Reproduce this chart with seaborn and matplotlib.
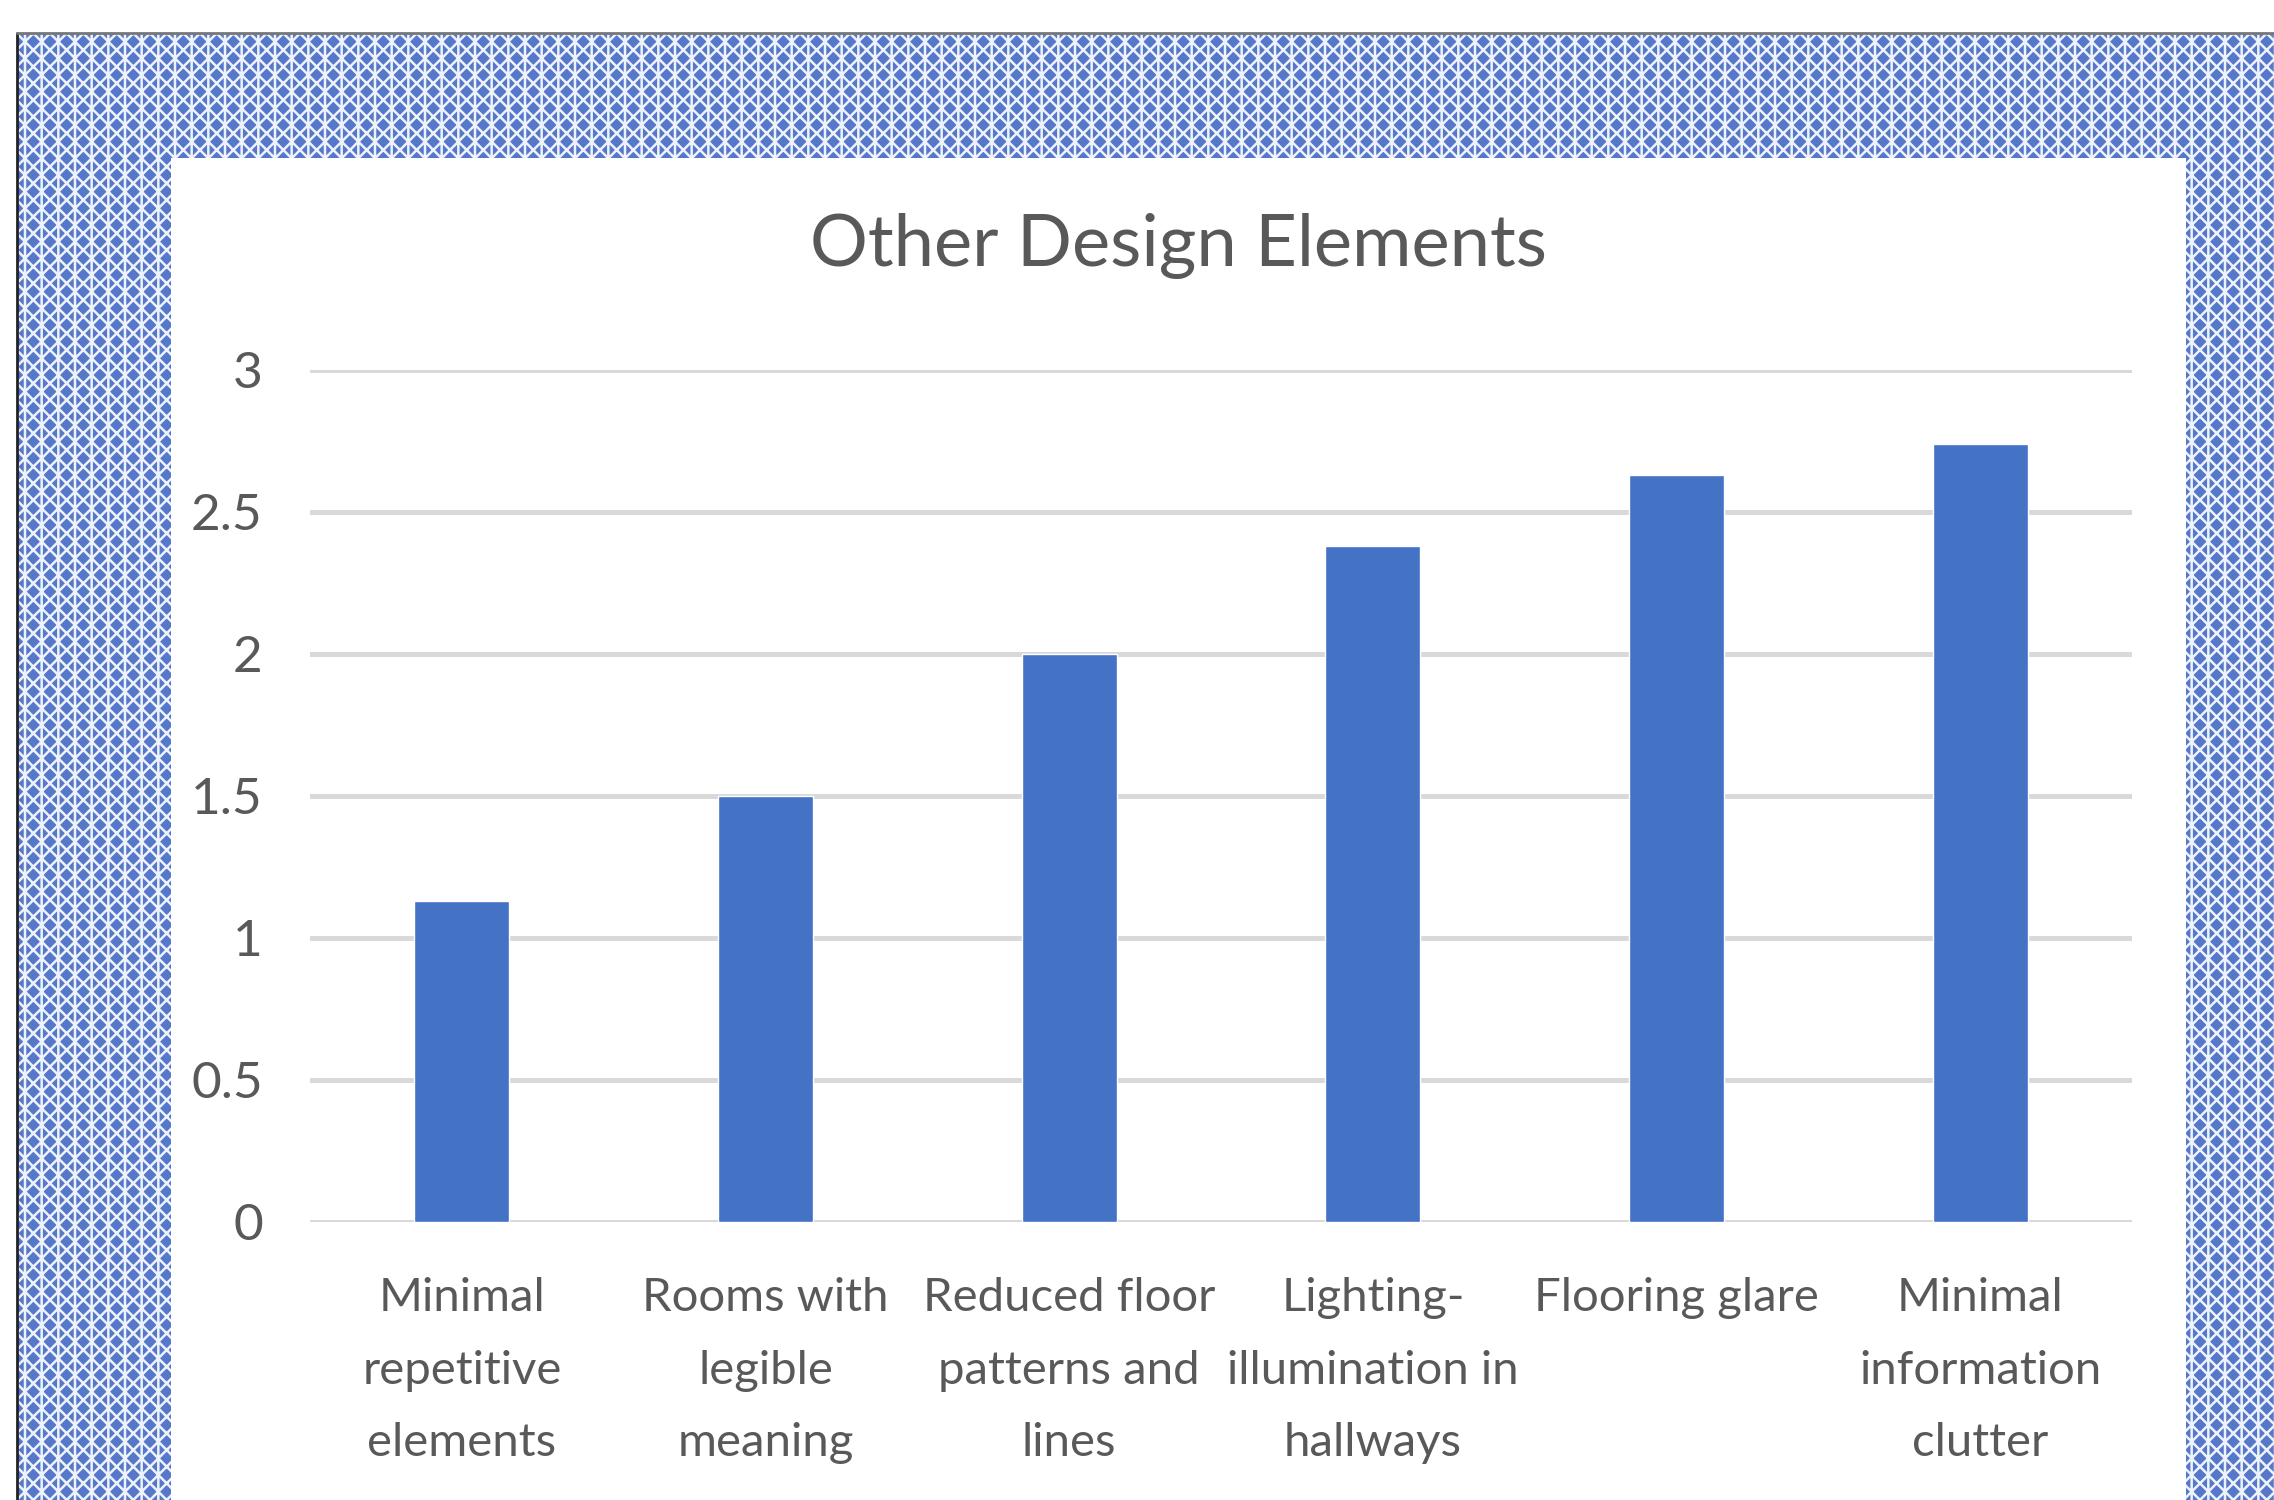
import pandas as pd
import matplotlib.pyplot as plt
import seaborn as sns
from matplotlib.patches import Rectangle
from matplotlib.lines import Line2D

# Values
labels = [
    "Minimal\nrepetitive\nelements",
    "Rooms with\nlegible\nmeaning",
    "Reduced floor\npatterns and\nlines",
    "Lighting-\nillumination in\nhallways",
    "Flooring glare",
    "Minimal\ninformation\nclutter",
]
scores = [1.13, 1.50, 2.00, 2.38, 2.63, 2.74]
y_ticks = [0, 0.5, 1, 1.5, 2, 2.5, 3]
y_tick_labels = ["0", "0.5", "1", "1.5", "2", "2.5", "3"]
title = "Other Design Elements"

df = pd.DataFrame({"element": labels, "score": scores})

sns.set_style("white")
plt.rcParams["font.family"] = ["Lato", "DejaVu Sans"]
plt.rcParams["hatch.linewidth"] = 1.8

text_color = "#595959"
bar_color = "#4472C4"

W, H = 2274, 1500
fig = plt.figure(figsize=(W / 100, H / 100), dpi=100)
fig.patch.set_facecolor("white")

# patterned backdrop behind the chart (screenshot look)
bg = Rectangle((17 / W, 0), 1 - 17 / W, 1 - 33 / H, transform=fig.transFigure,
               facecolor="#5678ca", edgecolor="#eef2fb", hatch="xx|",
               linewidth=0, zorder=0)
fig.patches.append(bg)
fig.lines.append(Line2D([17 / W, 17 / W], [0, 1 - 33 / H], transform=fig.transFigure,
                        color="#222222", linewidth=2, zorder=1))
fig.lines.append(Line2D([17 / W, 1], [1 - 33 / H, 1 - 33 / H], transform=fig.transFigure,
                        color="#777777", linewidth=2, zorder=1))

# white chart panel
panel = Rectangle((171 / W, 0), (2186 - 171) / W, 1 - 158 / H, transform=fig.transFigure,
                  facecolor="white", edgecolor="none", zorder=2)
fig.patches.append(panel)

ax_h = 1222 - 370
ax = fig.add_axes([310 / W, (H - 1222) / H, (2132 - 310) / W, ax_h / H])
ax.set_facecolor("none")
ax.set_zorder(3)

sns.barplot(data=df, x="element", y="score", color=bar_color, saturation=1,
            width=0.313, ax=ax, zorder=3)

ax.set_xlim(-0.5, len(labels) - 0.5)
ax.set_ylim(0, 3)
ax.set_yticks(y_ticks)
ax.set_yticklabels(y_tick_labels)
ax.yaxis.grid(True, color="#d9d9d9", linewidth=3.6)
ax.set_axisbelow(True)
for s in ax.spines.values():
    s.set_visible(False)
ax.set_xlabel("")
ax.set_ylabel("")
ax.tick_params(axis="y", length=0, pad=34, labelsize=37, labelcolor=text_color)

# category labels, wrapped over three lines with wide spacing
ax.set_xticks(range(len(labels)))
ax.set_xticklabels([""] * len(labels))
ax.tick_params(axis="x", length=0)
for i, lab in enumerate(labels):
    ax.text(i, -55 / ax_h, lab, transform=ax.get_xaxis_transform(),
            ha="center", va="top", fontsize=34, color=text_color,
            linespacing=1.9, multialignment="center")

fig.text(1178 / W, 1 - 246 / H, title, ha="center", va="center",
         fontsize=52, color=text_color, zorder=4)

fig.savefig("out.png", dpi=100)
